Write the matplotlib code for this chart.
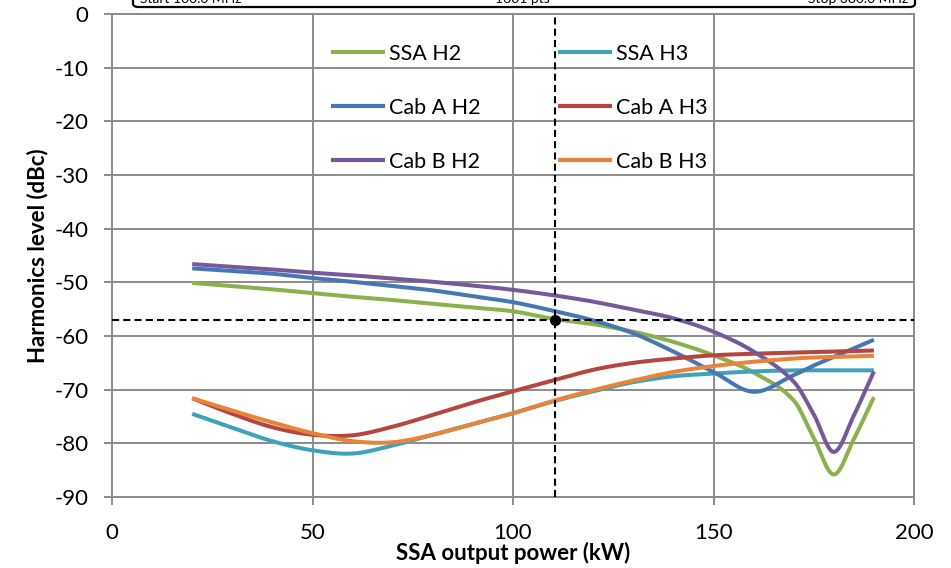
import numpy as np
import matplotlib
matplotlib.use("Agg")
import matplotlib.pyplot as plt
from matplotlib.patches import FancyBboxPatch

plt.rcParams['font.family'] = ['Lato', 'DejaVu Sans']
plt.rcParams['axes.unicode_minus'] = False

# SSA output power (kW) at which the harmonics were measured
power = [20, 30, 40, 50, 60, 70, 80, 90, 100, 110, 120, 130, 140, 150, 160, 170, 175, 180, 185, 190]

# harmonic levels (dBc)
ssa_h2 = [-50.1, -50.7, -51.3, -52.0, -52.7, -53.3, -54.0, -54.7, -55.4, -56.8, -57.8, -59.2,
          -61.1, -63.6, -66.8, -72.0, -79.0, -85.8, -79.2, -71.4]
ssa_h3 = [-74.5, -77.1, -79.6, -81.3, -81.9, -80.4, -78.4, -76.4, -74.4, -72.2, -70.3, -68.6,
          -67.5, -67.0, -66.6, -66.4, -66.4, -66.4, -66.4, -66.4]
caba_h2 = [-47.4, -47.9, -48.4, -49.2, -49.9, -50.7, -51.5, -52.6, -53.7, -55.3, -57.1, -59.5,
           -62.9, -66.7, -70.4, -67.3, -65.5, -63.9, -62.3, -60.7]
caba_h3 = [-71.6, -74.5, -77.0, -78.4, -78.5, -76.9, -74.7, -72.4, -70.3, -68.3, -66.3, -65.0,
           -64.2, -63.6, -63.3, -63.1, -63.0, -62.9, -62.8, -62.7]
cabb_h2 = [-46.6, -47.1, -47.6, -48.2, -48.7, -49.3, -49.9, -50.6, -51.4, -52.4, -53.6, -55.1,
           -56.7, -59.2, -62.9, -68.5, -74.6, -81.6, -74.8, -66.6]
cabb_h3 = [-71.6, -73.9, -76.1, -78.1, -79.6, -79.8, -78.4, -76.4, -74.4, -72.1, -70.1, -68.3,
           -66.7, -65.6, -64.8, -64.2, -64.0, -63.9, -63.8, -63.7]

labels = ['SSA H2', 'SSA H3', 'Cab A H2', 'Cab A H3', 'Cab B H2', 'Cab B H3']
colors = ['#8CB04C', '#3FA2BC', '#4677B5', '#B6443F', '#76599B', '#E8843A']

# operating point
op_power = 110.5
op_level = -57.0

vna_texts = ['Start 100.0 MHz', '1601 pts', 'Stop 380.0 MHz']


def smooth(x, y, n=30):
    # cardinal-style cubic Hermite through the points (like a spreadsheet "smoothed line")
    x = np.asarray(x, float)
    y = np.asarray(y, float)
    m = np.zeros_like(y)
    m[1:-1] = (y[2:] - y[:-2]) / (x[2:] - x[:-2])
    m[0] = (y[1] - y[0]) / (x[1] - x[0])
    m[-1] = (y[-1] - y[-2]) / (x[-1] - x[-2])
    xs, ys = [], []
    for i in range(len(x) - 1):
        h = x[i + 1] - x[i]
        t = np.linspace(0, 1, n, endpoint=False)
        h00 = 2 * t**3 - 3 * t**2 + 1
        h10 = t**3 - 2 * t**2 + t
        h01 = -2 * t**3 + 3 * t**2
        h11 = t**3 - t**2
        xs.append(x[i] + t * h)
        ys.append(h00 * y[i] + h10 * h * m[i] + h01 * y[i + 1] + h11 * h * m[i + 1])
    xs.append([x[-1]])
    ys.append([y[-1]])
    return np.concatenate(xs), np.concatenate(ys)


fig = plt.figure(figsize=(9.51, 5.68), dpi=100)
ax = fig.add_axes([112 / 951, 1 - 497 / 568, (914 - 112) / 951, (497 - 14) / 568])

series = [ssa_h2, ssa_h3, caba_h2, caba_h3, cabb_h2, cabb_h3]
handles = []
for vals, lab, col in zip(series, labels, colors):
    sx, sy = smooth(power, vals)
    ln, = ax.plot(sx, sy, color=col, lw=2.9, label=lab, solid_capstyle='butt', zorder=3)
    handles.append(ln)

ax.axvline(op_power, color='black', lw=1.5, dashes=(3.4, 2.0), zorder=4)
ax.axhline(op_level, color='black', lw=1.5, dashes=(3.4, 2.0), zorder=4)
ax.plot([op_power], [op_level], 'o', color='black', ms=7, zorder=5)

ax.set_xlim(0, 200)
ax.set_ylim(-90, 0)
ax.set_xticks([0, 50, 100, 150, 200])
ax.set_yticks(np.arange(-90, 1, 10))
ax.grid(True, color='#8C8C8C', lw=1.4)
ax.set_axisbelow(True)
for sp in ax.spines.values():
    sp.set_color('#8C8C8C')
    sp.set_linewidth(1.4)
ax.tick_params(axis='both', direction='out', length=6, width=1.4, color='#8C8C8C',
               labelsize=16)
ax.tick_params(axis='x', pad=13)
ax.tick_params(axis='y', pad=11)

ax.set_xlabel('SSA output power (kW)', fontsize=16, fontweight='bold', labelpad=-1)
ax.set_ylabel('Harmonics level (dBc)', fontsize=16, fontweight='bold', labelpad=4)

# legend filled row by row: H2 in the left column, H3 in the right
order = [0, 2, 4, 1, 3, 5]
leg = ax.legend([handles[i] for i in order], [labels[i] for i in order], ncol=2,
                loc='upper left', bbox_to_anchor=(0.249, 0.979), frameon=False,
                fontsize=15.5, handlelength=2.5, handletextpad=0.2, columnspacing=3.6,
                labelspacing=1.58)
for line in leg.get_lines():
    line.set_linewidth(3)

# clipped instrument readout strip at the top edge
box = FancyBboxPatch((133 / 951, 1 - 7 / 568), (915 - 133) / 951, 0.1,
                     boxstyle='round,pad=0,rounding_size=0.006', transform=fig.transFigure,
                     facecolor='white', edgecolor='black', lw=1.6, clip_on=False)
fig.patches.append(box)
fig.text(140 / 951, 1 - 3 / 568, vna_texts[0], ha='left', va='baseline', fontsize=10)
fig.text(522 / 951, 1 - 3 / 568, vna_texts[1], ha='center', va='baseline', fontsize=10)
fig.text(908 / 951, 1 - 3 / 568, vna_texts[2], ha='right', va='baseline', fontsize=10)

fig.savefig('out.png', dpi=100)
